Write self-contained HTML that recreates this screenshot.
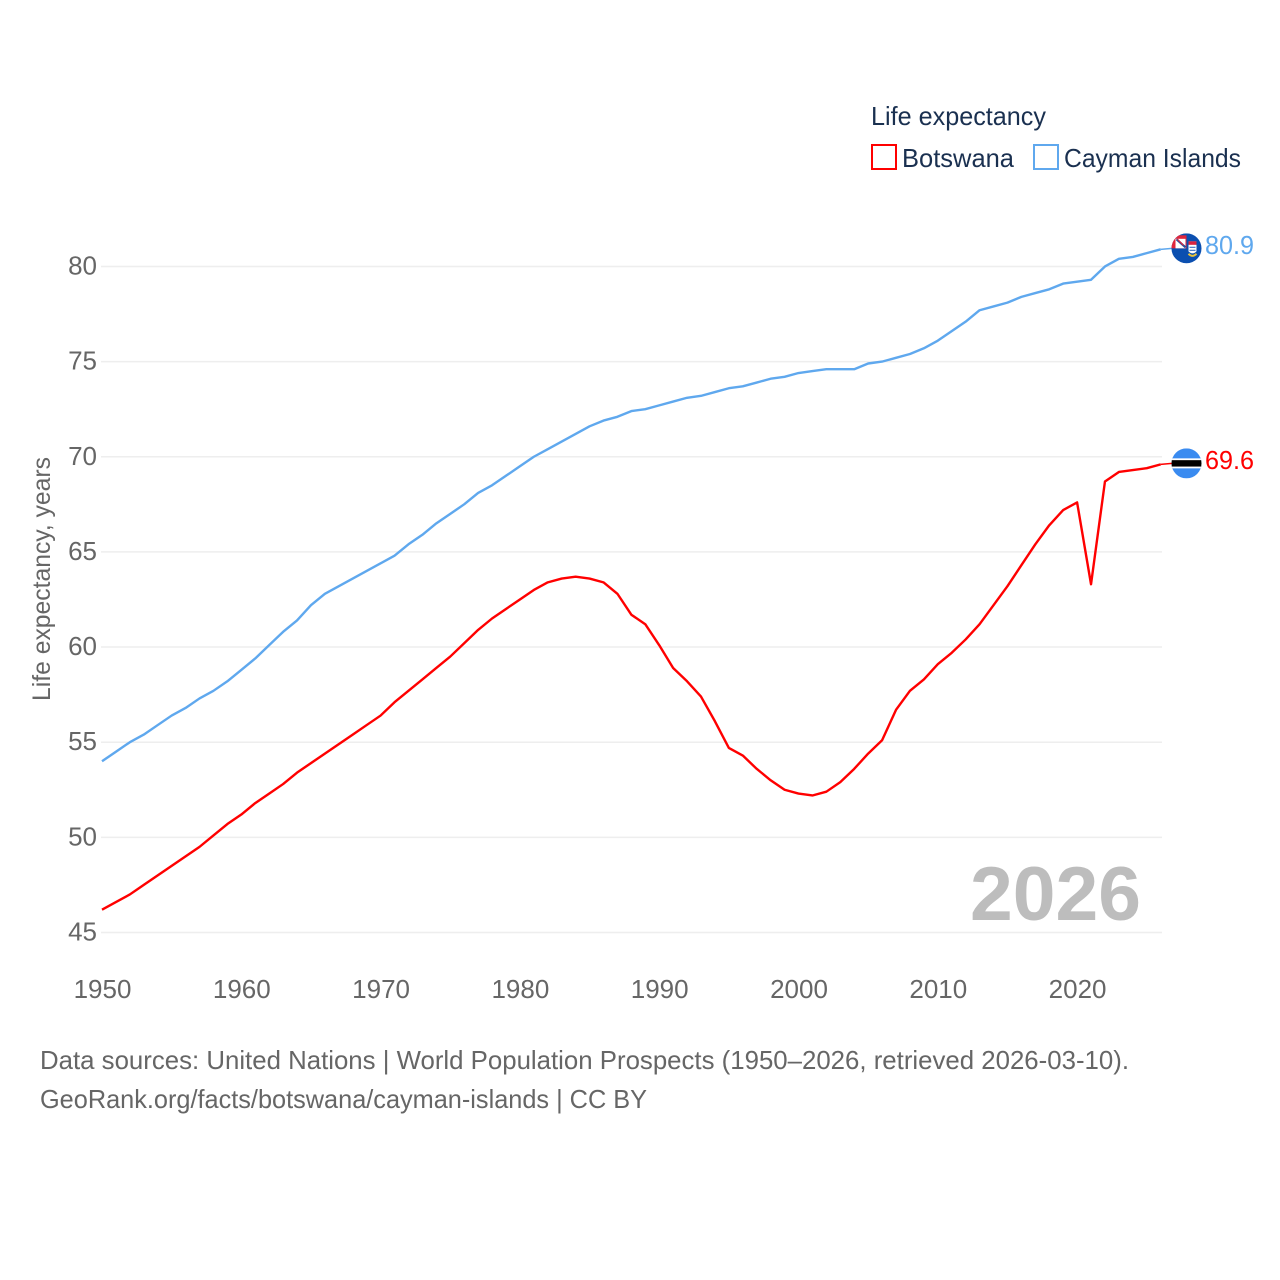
<!DOCTYPE html>
<html lang="en">
<head>
<meta charset="utf-8">
<title>Life expectancy: Botswana and Cayman Islands</title>
<style>
html,body{margin:0;padding:0;background:#fff}
svg{display:block}
text{font-family:"Liberation Sans",sans-serif}
</style>
</head>
<body>
<svg id="chart" width="1280" height="1280" viewBox="0 0 1280 1280" xmlns="http://www.w3.org/2000/svg">
  <rect width="1280" height="1280" fill="#fff"/>
  <g id="grid"></g>
  <g id="yticks"></g>
  <g id="xticks"></g>
  <text x="1141" y="920" text-anchor="end" font-size="76" font-weight="700" fill="#bdbdbd" textLength="171" lengthAdjust="spacingAndGlyphs">2026</text>
  <g id="series"></g>
  <text transform="translate(50,701) rotate(-90)" font-size="25" fill="#666" textLength="244" lengthAdjust="spacingAndGlyphs">Life expectancy, years</text>
  <g>
    <text x="871" y="125" font-size="26" fill="#1a3050" textLength="175" lengthAdjust="spacingAndGlyphs">Life expectancy</text>
    <g>
      <rect x="872" y="145" width="24" height="24" fill="#fff" stroke="#ff0000" stroke-width="2"/>
      <text x="902" y="167" font-size="26" fill="#1a3050" textLength="112" lengthAdjust="spacingAndGlyphs">Botswana</text>
    </g>
    <g>
      <rect x="1034" y="145" width="24" height="24" fill="#fff" stroke="#5fa8ee" stroke-width="2"/>
      <text x="1064" y="167" font-size="26" fill="#1a3050" textLength="177" lengthAdjust="spacingAndGlyphs">Cayman Islands</text>
    </g>
  </g>
  <defs>
    <clipPath id="flagClipC"><circle cx="0" cy="0" r="15"/></clipPath>
    <clipPath id="flagClipB"><circle cx="0" cy="0" r="15"/></clipPath>
  </defs>
  <g id="flagCayman">
    <g clip-path="url(#flagClipC)">
      <rect x="-15" y="-15" width="30" height="30" fill="#0b4fb0"/>
      <rect x="-15" y="-13" width="15" height="13" fill="#e0263c"/>
      <rect x="-11" y="-9.5" width="10" height="9.5" fill="#fff"/>
      <path d="M-10 -9L-1 -1" stroke="#2450a0" stroke-width="2.2" fill="none"/>
      <path d="M-9 -9L-3 -3" stroke="#e0263c" stroke-width="1.2" fill="none"/>
      <path d="M2 -7H10V3Q6 7 2 3Z" fill="#fff"/>
      <rect x="2" y="-7" width="8" height="3.5" fill="#d8233f"/>
      <path d="M3 -1H9M3 2H9" stroke="#3a70c0" stroke-width="1.2"/>
      <path d="M2 5.5Q6 9.5 10 5.5" stroke="#e8c33a" stroke-width="2" fill="none"/>
    </g>
  </g>
  <g id="flagBotswana">
    <g clip-path="url(#flagClipB)">
      <rect x="-15" y="-15" width="30" height="30" fill="#3a8bf0"/>
      <rect x="-15" y="-5" width="30" height="10" fill="#fff"/>
      <rect x="-15" y="-3.2" width="30" height="6.4" fill="#000"/>
    </g>
  </g>
  <g id="endLabels"></g>
  <g>
    <text x="40" y="1069" font-size="26" fill="#666" textLength="1089" lengthAdjust="spacingAndGlyphs">Data sources: United Nations | World Population Prospects (1950–2026, retrieved 2026-03-10).</text>
    <text x="40" y="1108" font-size="26" fill="#666" textLength="607" lengthAdjust="spacingAndGlyphs">GeoRank.org/facts/botswana/cayman-islands | CC BY</text>
  </g>
</svg>
<script>
const years = [1950,1951,1952,1953,1954,1955,1956,1957,1958,1959,1960,1961,1962,1963,1964,1965,1966,1967,1968,1969,1970,1971,1972,1973,1974,1975,1976,1977,1978,1979,1980,1981,1982,1983,1984,1985,1986,1987,1988,1989,1990,1991,1992,1993,1994,1995,1996,1997,1998,1999,2000,2001,2002,2003,2004,2005,2006,2007,2008,2009,2010,2011,2012,2013,2014,2015,2016,2017,2018,2019,2020,2021,2022,2023,2024,2025,2026];
const botswana = [46.2,46.6,47.0,47.5,48.0,48.5,49.0,49.5,50.1,50.7,51.2,51.8,52.3,52.8,53.4,53.9,54.4,54.9,55.4,55.9,56.4,57.1,57.7,58.3,58.9,59.5,60.2,60.9,61.5,62.0,62.5,63.0,63.4,63.6,63.7,63.6,63.4,62.8,61.7,61.2,60.1,58.9,58.2,57.4,56.1,54.7,54.3,53.6,53.0,52.5,52.3,52.2,52.4,52.9,53.6,54.4,55.1,56.7,57.7,58.3,59.1,59.7,60.4,61.2,62.2,63.2,64.3,65.4,66.4,67.2,67.6,63.3,68.7,69.2,69.3,69.4,69.6];
const cayman = [54.0,54.5,55.0,55.4,55.9,56.4,56.8,57.3,57.7,58.2,58.8,59.4,60.1,60.8,61.4,62.2,62.8,63.2,63.6,64.0,64.4,64.8,65.4,65.9,66.5,67.0,67.5,68.1,68.5,69.0,69.5,70.0,70.4,70.8,71.2,71.6,71.9,72.1,72.4,72.5,72.7,72.9,73.1,73.2,73.4,73.6,73.7,73.9,74.1,74.2,74.4,74.5,74.6,74.6,74.6,74.9,75.0,75.2,75.4,75.7,76.1,76.6,77.1,77.7,77.9,78.1,78.4,78.6,78.8,79.1,79.2,79.3,80.0,80.4,80.5,80.7,80.9];
const yTickValues = [45,50,55,60,65,70,75,80];
const xTickYears = [1950,1960,1970,1980,1990,2000,2010,2020];

const NS = 'http://www.w3.org/2000/svg';
const xAxis = function (year) { return 102 + (year - 1950) * 13.93; };
const yAxis = function (value) { return 932.5 - (value - 45) * 19.03; };

function make(tag, parent, attrs, content) {
  const el = document.createElementNS(NS, tag);
  Object.keys(attrs).forEach(function (k) { el.setAttribute(k, attrs[k]); });
  if (content !== undefined) el.textContent = content;
  parent.appendChild(el);
  return el;
}

const grid = document.getElementById('grid');
const yticks = document.getElementById('yticks');
const xticks = document.getElementById('xticks');
const seriesGroup = document.getElementById('series');
const endLabels = document.getElementById('endLabels');

yTickValues.forEach(function (v) {
  const line = make('line', grid, {x1: 101, x2: 1162, y1: yAxis(v), y2: yAxis(v), stroke: '#eeeeee', 'stroke-width': 1.5});
  
  
  const label = make('text', yticks, {x: 97, y: yAxis(v) + 8, 'text-anchor': 'end', 'font-size': 26, fill: '#666'}, String(v));
  
  
});

xTickYears.forEach(function (yr) {
  const label = make('text', xticks, {x: xAxis(yr) + 0.5, y: 998, 'text-anchor': 'middle', 'font-size': 26, fill: '#666'}, String(yr));
  
  
});

function drawSeries(values, color, seriesName, flagId) {
  const pts = values.map(function (v, i) { return xAxis(years[i]).toFixed(2) + ',' + yAxis(v).toFixed(2); }).join(' ');
  const line = make('polyline', seriesGroup, {points: pts, fill: 'none', stroke: color, 'stroke-width': 2.4, 'stroke-linejoin': 'round'});
  
  
  const last = values[values.length - 1];
  const lastY = yAxis(last);
  const lastX = xAxis(years[years.length - 1]);
  const connector = make('line', seriesGroup, {x1: lastX, x2: 1172, y1: lastY, y2: lastY - 1, stroke: color, 'stroke-width': 1.5});
  
  
  document.getElementById(flagId).setAttribute('transform', 'translate(1186.5,' + (lastY - 1) + ')');
  const label = make('text', endLabels, {x: 1205, y: lastY + 4.5, 'font-size': 26, fill: color, textLength: 49, lengthAdjust: 'spacingAndGlyphs'}, last.toFixed(1));
  
  
}

drawSeries(cayman, '#5fa8ee', 'cayman-islands', 'flagCayman');
drawSeries(botswana, '#ff0000', 'botswana', 'flagBotswana');
</script>
</body>
</html>
